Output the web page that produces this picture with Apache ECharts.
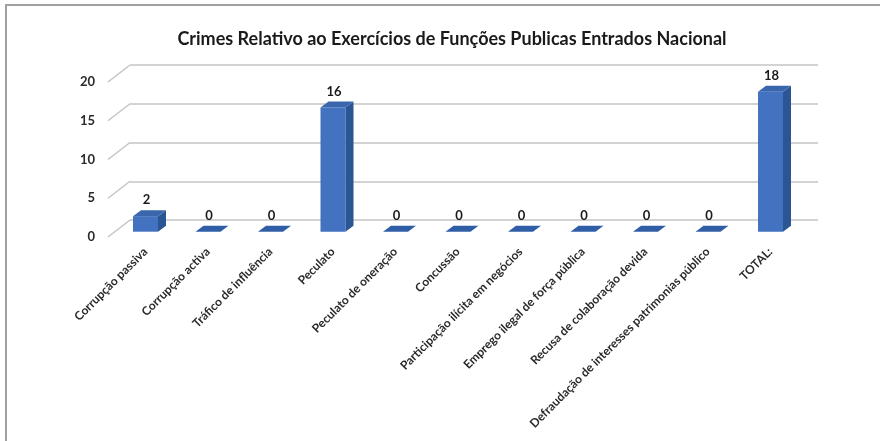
<!DOCTYPE html>
<html>
<head>
<meta charset="utf-8">
<script src="https://cdn.jsdelivr.net/npm/echarts@6/dist/echarts.min.js"></script>
<style>
html,body{margin:0;padding:0;background:#fff;}
#frame{position:absolute;left:5px;top:4px;width:875px;height:437px;border-left:2px solid #a0a0a0;border-top:2px solid #a0a0a0;box-sizing:border-box;}
#chart{position:absolute;left:0;top:0;width:880px;height:441px;}
</style>
</head>
<body>
<div id="frame"></div>
<div id="chart"></div>
<script>
var titleText = 'Crimes Relativo ao Exercícios de Funções Publicas Entrados Nacional';
var categories = ['Corrupção passiva','Corrupção activa','Tráfico de influência','Peculato','Peculato de oneração','Concussão','Participação ilícita em negócios','Emprego ilegal de força pública','Recusa de colaboração devida','Defraudação de interesses patrimonias público','TOTAL:'];
var values = [2,0,0,16,0,0,0,0,0,0,18];
var yTicks = [0,5,10,15,20];

var FONT = 'Lato, "Open Sans", sans-serif';
var DX = 8, DY = -6;

var chart = echarts.init(document.getElementById('chart'), null, {renderer:'canvas'});
chart.setOption({
  backgroundColor: 'transparent',
  animation: false,
  title: {
    text: titleText, left: 447, top: 25, textAlign: 'center',
    textStyle: {fontFamily: FONT, fontWeight: 'bold', fontSize: 18, color: '#1a1a1a'}
  },
  grid: [
    {left: 130, right: 62, top: 65, bottom: 221, containLabel: false},
    {left: 114.25, width: 687.5, top: 76.3, bottom: 209.3, containLabel: false}
  ],
  xAxis: [
    {gridIndex: 0, type: 'category', data: categories, show: false},
    {gridIndex: 1, type: 'category', data: categories,
     axisLine: {show: false}, axisTick: {show: false},
     axisLabel: {interval: 0, rotate: 45, margin: 18, fontFamily: FONT, fontWeight: 'bold', fontSize: 12, color: '#2a2a2a'}}
  ],
  yAxis: [
    {gridIndex: 0, type: 'value', min: 0, max: 20, interval: 5,
     axisLine: {show: false}, axisTick: {show: false}, axisLabel: {show: false},
     splitLine: {show: true, lineStyle: {color: '#c4c4c4', width: 1.5}}},
    {gridIndex: 1, type: 'value', min: 0, max: 20, interval: 5, show: false,
     splitLine: {show: false}}
  ],
  series: [
    {
      type: 'custom', xAxisIndex: 0, yAxisIndex: 0, silent: true,
      data: yTicks.map(function (v) { return [0, v]; }),
      renderItem: function (params, api) {
        var v = api.value(1);
        var y = api.coord([0, v])[1];
        var x0 = params.coordSys.x;
        return {type: 'group', children: [
          {type: 'line', shape: {x1: x0 - 22, y1: y + 17, x2: x0, y2: y},
           style: {stroke: '#c4c4c4', lineWidth: 1.5}},
          {type: 'text', style: {x: x0 - 35, y: y + 17, text: String(v), textAlign: 'right', textVerticalAlign: 'middle',
            font: 'bold 13px ' + FONT, fill: '#2a2a2a'}}
        ]};
      }
    },
    {
      type: 'custom', xAxisIndex: 1, yAxisIndex: 1, silent: true,
      data: values.map(function (v, i) { return [i, v]; }),
      renderItem: function (params, api) {
        var i = api.value(0), v = api.value(1);
        var p0 = api.coord([i, 0]);
        var p1 = api.coord([i, v]);
        var bw = api.size([1, 0])[0] * 0.4;
        var xl = p0[0] - bw / 2, xr = p0[0] + bw / 2;
        var yb = p0[1], yt = p1[1];
        var children = [];
        if (v > 0) {
          children.push({type: 'rect', shape: {x: xl, y: yt, width: bw, height: yb - yt}, style: {fill: '#4372c0'}});
          children.push({type: 'polygon', shape: {points: [[xr, yt], [xr + DX, yt + DY], [xr + DX, yb + DY], [xr, yb]]}, style: {fill: '#2b5694'}});
        }
        children.push({type: 'polygon', shape: {points: [[xl, yt], [xl + DX, yt + DY], [xr + DX, yt + DY], [xr, yt]]}, style: {fill: v > 0 ? '#3a66ae' : '#2f5ea6'}});
        children.push({type: 'text', style: {x: p0[0] + 1, y: yt - 16, text: String(v), textAlign: 'center', textVerticalAlign: 'middle',
          font: 'bold 13px ' + FONT, fill: '#1a1a1a'}});
        return {type: 'group', children: children};
      }
    }
  ]
});
</script>
</body>
</html>
